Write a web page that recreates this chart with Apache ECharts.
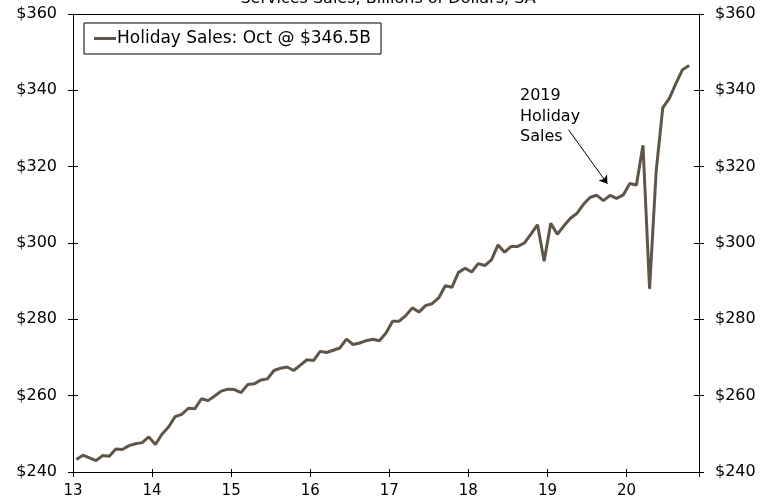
<!DOCTYPE html>
<html>
<head>
<meta charset="utf-8">
<script src="https://cdn.jsdelivr.net/npm/echarts@6/dist/echarts.min.js"></script>
<style>
  html, body { margin: 0; padding: 0; background: #fff; }
  #chart { width: 776px; height: 501px; }
</style>
</head>
<body>
<div id="chart"></div>
<script>
// x tick labels (start of each year)
var yearLabels = ['13', '14', '15', '16', '17', '18', '19', '20'];
// monthly holiday sales, Jan 2013 .. Oct 2020, $ billions
var sales2013 = [243.3, 244.4, 243.7, 243.0, 244.3, 244.1, 246.0, 245.9, 246.9, 247.4, 247.7, 249.2];
var sales2014 = [247.2, 249.9, 251.8, 254.5, 255.1, 256.7, 256.6, 259.2, 258.7, 259.9, 261.2, 261.7];
var sales2015 = [261.6, 260.8, 262.9, 263.1, 264.1, 264.4, 266.6, 267.2, 267.5, 266.6, 268.0, 269.4];
var sales2016 = [269.2, 271.6, 271.3, 271.9, 272.5, 274.8, 273.4, 273.8, 274.4, 274.8, 274.4, 276.4];
var sales2017 = [279.5, 279.5, 281.0, 283.0, 281.9, 283.6, 284.1, 285.6, 288.8, 288.4, 292.3, 293.4];
var sales2018 = [292.4, 294.6, 294.1, 295.6, 299.5, 297.6, 299.1, 299.1, 300.0, 302.3, 304.8, 295.2];
var sales2019 = [305.2, 302.3, 304.5, 306.5, 307.8, 310.2, 312.0, 312.5, 311.1, 312.5, 311.7, 312.6];
var sales2020 = [315.6, 315.2, 325.6, 288.0, 318.8, 335.4, 337.9, 341.8, 345.4, 346.5];

var allSales = [].concat(sales2013, sales2014, sales2015, sales2016, sales2017, sales2018, sales2019, sales2020);
// months counted from Jan 2013, point sits mid month
var lineData = allSales.map(function (v, i) { return [i + 0.5, v]; });

var lineColor = '#5f5549';
var font = 'DejaVu Sans';

var myChart = echarts.init(document.getElementById('chart'), null, { renderer: 'canvas' });

var baseX = { type: 'value', min: 0, max: 95, interval: 12, splitLine: { show: false } };
var baseY = { type: 'value', min: 240, max: 360, interval: 20, splitLine: { show: false } };

option = {
    animation: false,
    backgroundColor: '#fff',
    title: {
        text: 'Services Sales, Billions of Dollars, SA',
        left: 'center',
        top: -9,
        padding: 0,
        textStyle: { fontFamily: font, fontSize: 16, fontWeight: 'normal', color: '#000' }
    },
    grid: { left: 73, right: 77, top: 14, bottom: 29 },
    legend: {
        left: 84,
        top: 23,
        padding: [7, 10, 7, 10],
        borderColor: '#000',
        borderWidth: 1,
        icon: 'rect',
        itemWidth: 22,
        itemHeight: 3,
        textStyle: { fontFamily: font, fontSize: 17, color: '#000', padding: [0, 0, 0, -4] },
        data: ['Holiday Sales: Oct @ $346.5B']
    },
    xAxis: [
        Object.assign({}, baseX, {
            position: 'bottom',
            axisLine: { show: true, onZero: false, lineStyle: { color: '#000', width: 1 } },
            axisTick: { show: true, length: 5, lineStyle: { color: '#000' } },
            axisLabel: {
                margin: 12, color: '#000', fontFamily: font, fontSize: 15,
                formatter: function (v) { return yearLabels[v / 12]; }
            }
        }),
        Object.assign({}, baseX, {
            position: 'bottom',
            axisLine: { show: false, onZero: false },
            axisTick: { show: true, inside: true, length: 3, lineStyle: { color: '#000' } },
            axisLabel: { show: false }
        }),
        Object.assign({}, baseX, {
            position: 'top',
            axisLine: { show: true, onZero: false, lineStyle: { color: '#000', width: 1 } },
            axisTick: { show: false },
            axisLabel: { show: false }
        })
    ],
    yAxis: [
        Object.assign({}, baseY, {
            position: 'left',
            axisLine: { show: true, onZero: false, lineStyle: { color: '#000' } },
            axisTick: { show: true, length: 5, lineStyle: { color: '#000' } },
            axisLabel: { margin: 16, color: '#000', fontFamily: font, fontSize: 16, formatter: '${value}' }
        }),
        Object.assign({}, baseY, {
            position: 'right',
            axisLine: { show: true, onZero: false, lineStyle: { color: '#000' } },
            axisTick: { show: true, length: 5, lineStyle: { color: '#000' } },
            axisLabel: { margin: 16, color: '#000', fontFamily: font, fontSize: 16, formatter: '${value}' }
        }),
        Object.assign({}, baseY, {
            position: 'left',
            axisLine: { show: false, onZero: false },
            axisTick: { show: true, inside: true, length: 5, lineStyle: { color: '#000' } },
            axisLabel: { show: false }
        }),
        Object.assign({}, baseY, {
            position: 'right',
            axisLine: { show: false, onZero: false },
            axisTick: { show: true, inside: true, length: 5, lineStyle: { color: '#000' } },
            axisLabel: { show: false }
        })
    ],
    series: [
        {
            name: 'Holiday Sales: Oct @ $346.5B',
            type: 'line',
            xAxisIndex: 0,
            yAxisIndex: 0,
            data: lineData,
            showSymbol: false,
            symbol: 'none',
            color: lineColor,
            lineStyle: { color: lineColor, width: 3 },
            // arrow to the 2019 holiday season
            markLine: {
                silent: true,
                symbol: ['none', 'arrow'],
                symbolSize: 8,
                label: { show: false },
                lineStyle: { color: '#000', width: 1, type: 'solid' },
                data: [[{ coord: [75.2, 329.7] }, { coord: [81.1, 315.5] }]]
            }
        }
    ],
    graphic: [
        {
            type: 'text',
            left: 520,
            top: 86,
            style: { text: '2019\nHoliday\nSales', font: '16px "DejaVu Sans"', lineHeight: 20.5, fill: '#000' }
        }
    ]
};

myChart.setOption(option);
</script>
</body>
</html>
